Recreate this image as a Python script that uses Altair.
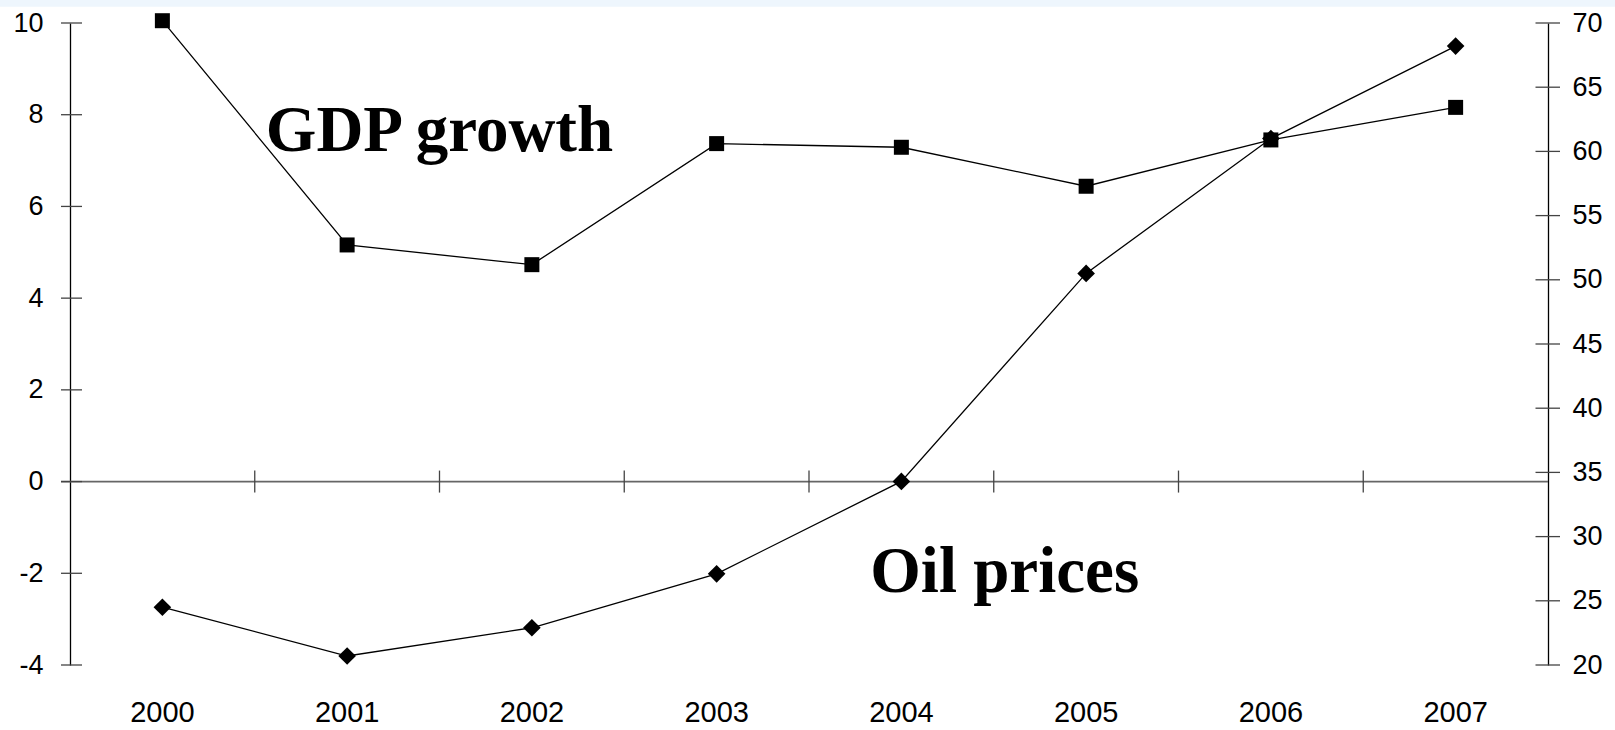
import altair as alt
import pandas as pd

# ---- data ----
years = ["2000", "2001", "2002", "2003", "2004", "2005", "2006", "2007"]
gdp_growth = [10.05, 5.16, 4.73, 7.37, 7.29, 6.44, 7.45, 8.16]
oil_prices = [24.5, 20.7, 22.9, 27.1, 34.3, 50.5, 61.0, 68.2]
left_ticks = [-4, -2, 0, 2, 4, 6, 8, 10]
right_ticks = [20, 25, 30, 35, 40, 45, 50, 55, 60, 65, 70]
boundary_years = years[1:]
zero_line = [0]
note_text = ["GDP growth", "Oil prices"]
note_year = ["2002", "2005"]
note_value = [7.2, -2.41]
note_dx = [0, 11]

W, H = 1478, 642

df = pd.DataFrame({"year": years, "gdp": gdp_growth, "oil": oil_prices})
lt = pd.DataFrame({"t": left_ticks})
rt = pd.DataFrame({"t": right_ticks})
bd = pd.DataFrame({"year": boundary_years, "z": [0] * len(boundary_years)})
zl = pd.DataFrame({"z": zero_line})
notes = pd.DataFrame({"text": note_text, "year": note_year, "v": note_value})

xscale = alt.Scale(type="band", paddingInner=0, paddingOuter=0, domain=years)
lscale = alt.Scale(domain=[-4, 10], nice=False, zero=False)
rscale = alt.Scale(domain=[20, 70], nice=False, zero=False)

xaxis = alt.Axis(title=None, domain=False, ticks=False, tickSize=0, labelAngle=0,
                 labelAlign="center", bandPosition=0.5,
                 labelFont="Liberation Sans", labelFontSize=29, labelColor="black",
                 labelPadding=47, labelBaseline="middle", grid=False)
laxis = alt.Axis(title=None, values=left_ticks, ticks=False, tickSize=0, grid=False,
                 domain=True, domainColor="black", domainWidth=1.3,
                 labelExpr="datum.value",
                 labelFont="Liberation Sans", labelFontSize=27, labelColor="black",
                 labelPadding=27, labelFlush=False, labelOverlap=False)
raxis = alt.Axis(title=None, orient="right", values=right_ticks, ticks=False, tickSize=0,
                 grid=False, domain=True, domainColor="black", domainWidth=1.3,
                 labelFont="Liberation Sans", labelFontSize=27, labelColor="black",
                 labelPadding=24, labelFlush=False, labelOverlap=False)

X = alt.X("year:N", scale=xscale, axis=xaxis)

# top light strip (slide background)
strip = alt.Chart(zl).mark_rect(color="#EEF6FD").encode(
    x=alt.value(-70), x2=alt.value(W + 67), y=alt.value(-23), y2=alt.value(-16.3)
)

gdp_line = alt.Chart(df).mark_line(color="black", strokeWidth=1.3).encode(
    x=X, y=alt.Y("gdp:Q", scale=lscale, axis=laxis)
)
gdp_pts = alt.Chart(df).mark_point(shape="square", filled=True, color="black",
                                   size=225, opacity=1).encode(
    x=alt.X("year:N", scale=xscale), y=alt.Y("gdp:Q", scale=lscale)
)
zero_rule = alt.Chart(zl).mark_rule(color="#666666", strokeWidth=1.7).encode(
    y=alt.Y("z:Q", scale=lscale), x=alt.value(-9), x2=alt.value(W)
)
xticks = alt.Chart(bd).mark_rule(color="#444444", strokeWidth=1.3,
                                 yOffset=-11, y2Offset=11).encode(
    x=alt.X("year:N", scale=xscale, bandPosition=0),
    y=alt.Y("z:Q", scale=lscale), y2="z"
)
lticks = alt.Chart(lt).mark_rule(color="#444444", strokeWidth=1.3).encode(
    y=alt.Y("t:Q", scale=lscale), x=alt.value(-9), x2=alt.value(12)
)
gdp_note = alt.Chart(notes.iloc[[0]]).mark_text(
    font="Liberation Serif", fontWeight="bold", fontSize=65, color="black",
    align="center", baseline="alphabetic", dx=note_dx[0]
).encode(
    x=alt.X("year:N", scale=xscale, bandPosition=0),
    y=alt.Y("v:Q", scale=lscale),
    text="text:N"
)
oil_note = alt.Chart(notes.iloc[[1]]).mark_text(
    font="Liberation Serif", fontWeight="bold", fontSize=65, color="black",
    align="center", baseline="alphabetic", dx=note_dx[1]
).encode(
    x=alt.X("year:N", scale=xscale, bandPosition=0),
    y=alt.Y("v:Q", scale=lscale),
    text="text:N"
)

left_layer = alt.layer(gdp_line, strip, zero_rule, xticks, lticks, gdp_pts, gdp_note, oil_note)

oil_line = alt.Chart(df).mark_line(color="black", strokeWidth=1.3).encode(
    x=X, y=alt.Y("oil:Q", scale=rscale, axis=raxis)
)
oil_pts = alt.Chart(df).mark_point(shape="diamond", filled=True, color="black",
                                   size=310, opacity=1).encode(
    x=alt.X("year:N", scale=xscale), y=alt.Y("oil:Q", scale=rscale)
)
rticks = alt.Chart(rt).mark_rule(color="#444444", strokeWidth=1.3).encode(
    y=alt.Y("t:Q", scale=rscale), x=alt.value(W - 12.5), x2=alt.value(W + 12)
)
right_layer = alt.layer(oil_line, rticks, oil_pts)

chart = alt.layer(left_layer, right_layer).resolve_scale(y="independent").properties(
    width=W, height=H,
    autosize=alt.AutoSizeParams(type="none"),
    padding={"left": 70, "top": 23, "right": 67, "bottom": 65},
    background="white",
).configure_view(stroke=None)

chart.save("out.html", embed_options={"renderer": "svg", "actions": False})
